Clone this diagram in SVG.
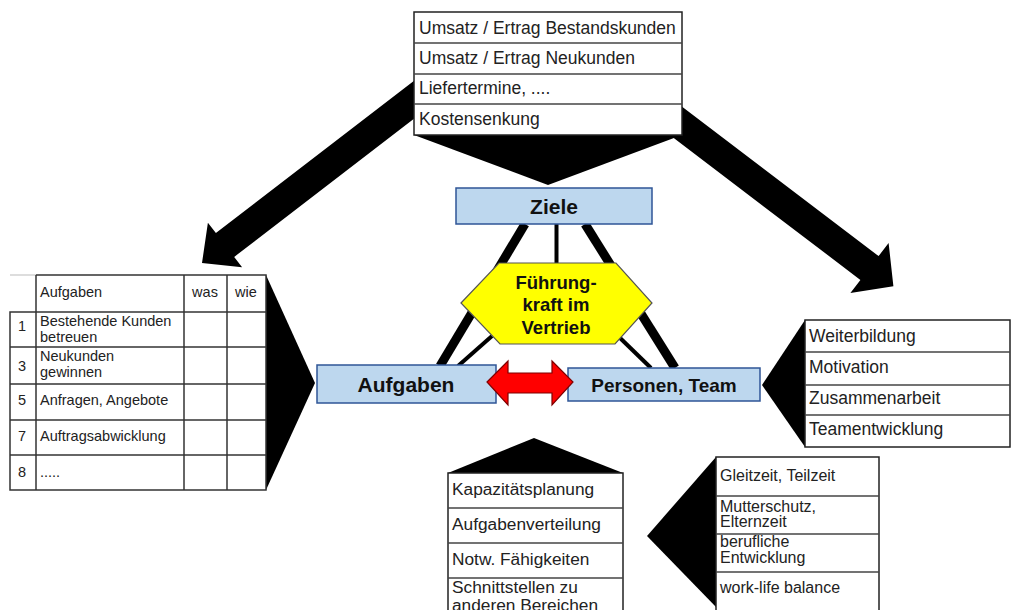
<svg xmlns="http://www.w3.org/2000/svg" width="1012" height="610" viewBox="0 0 1012 610">
<style>
.t{font-family:"Liberation Sans",Arial,sans-serif;fill:#222}
.b{font-family:"Liberation Sans",Arial,sans-serif;font-weight:bold;fill:#111;text-anchor:middle}
.box{fill:#fff;stroke:#222;stroke-width:1.5}
.sep{stroke:#444;stroke-width:1.5}
.blue{fill:#BDD7EE;stroke:#2F5597;stroke-width:1.5}
.blk{fill:#000}
.tbl{stroke:#333;stroke-width:1.5;fill:none}
</style>
<rect width="1012" height="610" fill="#fff"/>

<g id="connectors">
  <polygon class="blk" points="422.2,74.5 215.9,233.1 207.9,222.8 202,263 242.1,267.2 234.2,256.9 440.6,98.3"/>
  <polygon class="blk" points="671.6,98.8 878.6,256.1 888.6,242.9 893.4,286.2 850.4,293.1 860.4,279.9 653.4,122.6"/>
  <polygon class="blk" points="414,135 682,135 548,185"/>
  <polygon class="blk" points="266,275 315,383 266,490"/>
  <polygon class="blk" points="805,320 762,385 805,447"/>
  <polygon class="blk" points="448,473 623,473 534,438"/>
  <polygon class="blk" points="716,457 647,536 716,607"/>
  <line x1="525" y1="224" x2="440" y2="366" stroke="#000" stroke-width="9"/>
  <line x1="585" y1="224" x2="675" y2="368" stroke="#000" stroke-width="9"/>
  <line x1="556.5" y1="224" x2="556.5" y2="264" stroke="#000" stroke-width="4"/>
  <line x1="492" y1="336" x2="458" y2="366" stroke="#000" stroke-width="4"/>
  <line x1="618" y1="336" x2="651" y2="368" stroke="#000" stroke-width="4"/>
</g>

<g id="ziele-liste">
  <rect class="box" x="414" y="12" width="268" height="123"/>
  <line class="sep" x1="414" y1="43" x2="682" y2="43"/>
  <line class="sep" x1="414" y1="74" x2="682" y2="74"/>
  <line class="sep" x1="414" y1="104" x2="682" y2="104"/>
  <text class="t" x="419" y="33.5" font-size="17.5">Umsatz / Ertrag Bestandskunden</text>
  <text class="t" x="419" y="64" font-size="17.5">Umsatz / Ertrag Neukunden</text>
  <text class="t" x="419" y="94" font-size="17.5">Liefertermine, ....</text>
  <text class="t" x="419" y="124.5" font-size="17.5">Kostensenkung</text>
</g>

<g id="ziele">
  <rect class="blue" x="456" y="188" width="196" height="36"/>
  <text class="b" x="554" y="213.5" font-size="21">Ziele</text>
</g>

<g id="fuehrungskraft">
  <polygon points="461,303 499,263 616,263 652,303 615,344 500,344" fill="#FFFF00" stroke="#555" stroke-width="1.2"/>
  <text class="b" x="556" y="288.5" font-size="18.5">Führung-</text>
  <text class="b" x="556" y="311" font-size="18.5">kraft im</text>
  <text class="b" x="556" y="333.5" font-size="18.5">Vertrieb</text>
</g>

<g id="aufgaben">
  <rect class="blue" x="317" y="365" width="179" height="38"/>
  <text class="b" x="406" y="391.5" font-size="21">Aufgaben</text>
</g>

<g id="personen">
  <rect class="blue" x="568" y="368" width="192" height="33"/>
  <text class="b" x="664" y="392" font-size="19">Personen, Team</text>
</g>

<g id="doppelpfeil">
  <polygon points="487,382 508,361 508,373 552,373 552,361 573,382 552,405 552,393 508,393 508,405" fill="#FF0000" stroke="#7F0000" stroke-width="1.2"/>
</g>

<g id="aufgaben-tabelle">
  <line x1="10" y1="275" x2="36" y2="275" stroke="#bbb" stroke-width="1"/>
  <polyline class="tbl" points="36,275 266,275 266,490 10,490 10,312 36,312"/>
  <line class="tbl" x1="36" y1="275" x2="36" y2="490"/>
  <line class="tbl" x1="184" y1="275" x2="184" y2="490"/>
  <line class="tbl" x1="227" y1="275" x2="227" y2="490"/>
  <line class="tbl" x1="36" y1="312" x2="266" y2="312"/>
  <line class="tbl" x1="10" y1="347" x2="266" y2="347"/>
  <line class="tbl" x1="10" y1="384" x2="266" y2="384"/>
  <line class="tbl" x1="10" y1="420" x2="266" y2="420"/>
  <line class="tbl" x1="10" y1="455" x2="266" y2="455"/>
  <text class="t" x="40" y="297" font-size="14.5">Aufgaben</text>
  <text class="t" x="205" y="297" font-size="14.5" text-anchor="middle">was</text>
  <text class="t" x="246" y="297" font-size="14.5" text-anchor="middle">wie</text>
  <text class="t" x="22" y="331" font-size="14.5" text-anchor="middle">1</text>
  <text class="t" x="40" y="326" font-size="14.5">Bestehende Kunden</text>
  <text class="t" x="40" y="342" font-size="14.5">betreuen</text>
  <text class="t" x="22" y="371" font-size="14.5" text-anchor="middle">3</text>
  <text class="t" x="40" y="361" font-size="14.5">Neukunden</text>
  <text class="t" x="40" y="377" font-size="14.5">gewinnen</text>
  <text class="t" x="22" y="405" font-size="14.5" text-anchor="middle">5</text>
  <text class="t" x="40" y="405" font-size="14.5">Anfragen, Angebote</text>
  <text class="t" x="22" y="441" font-size="14.5" text-anchor="middle">7</text>
  <text class="t" x="40" y="441" font-size="14.5">Auftragsabwicklung</text>
  <text class="t" x="22" y="477" font-size="14.5" text-anchor="middle">8</text>
  <text class="t" x="40" y="477" font-size="14.5">.....</text>
</g>

<g id="personen-liste">
  <rect class="box" x="805" y="320" width="205" height="127"/>
  <line class="sep" x1="805" y1="352" x2="1010" y2="352"/>
  <line class="sep" x1="805" y1="385" x2="1010" y2="385"/>
  <line class="sep" x1="805" y1="415" x2="1010" y2="415"/>
  <text class="t" x="809" y="342" font-size="17.5">Weiterbildung</text>
  <text class="t" x="809" y="373" font-size="17.5">Motivation</text>
  <text class="t" x="809" y="404" font-size="17.5">Zusammenarbeit</text>
  <text class="t" x="809" y="435" font-size="17.5">Teamentwicklung</text>
</g>

<g id="kapazitaet-liste">
  <rect class="box" x="448" y="473" width="175" height="145"/>
  <line class="sep" x1="448" y1="508" x2="623" y2="508"/>
  <line class="sep" x1="448" y1="543" x2="623" y2="543"/>
  <line class="sep" x1="448" y1="578" x2="623" y2="578"/>
  <text class="t" x="452" y="495" font-size="17.3">Kapazitätsplanung</text>
  <text class="t" x="452" y="530" font-size="17.3">Aufgabenverteilung</text>
  <text class="t" x="452" y="565" font-size="17.3">Notw. Fähigkeiten</text>
  <text class="t" x="452" y="593" font-size="17.3">Schnittstellen zu</text>
  <text class="t" x="452" y="611" font-size="17.3">anderen Bereichen</text>
</g>

<g id="arbeitszeit-liste">
  <rect class="box" x="716" y="457" width="163" height="160"/>
  <line class="sep" x1="716" y1="496" x2="879" y2="496"/>
  <line class="sep" x1="716" y1="534" x2="879" y2="534"/>
  <line class="sep" x1="716" y1="572" x2="879" y2="572"/>
  <text class="t" x="720" y="481" font-size="16">Gleitzeit, Teilzeit</text>
  <text class="t" x="720" y="512" font-size="16">Mutterschutz,</text>
  <text class="t" x="720" y="527" font-size="16">Elternzeit</text>
  <text class="t" x="720" y="547" font-size="16">berufliche</text>
  <text class="t" x="720" y="563" font-size="16">Entwicklung</text>
  <text class="t" x="720" y="593" font-size="16">work-life balance</text>
</g>
</svg>
